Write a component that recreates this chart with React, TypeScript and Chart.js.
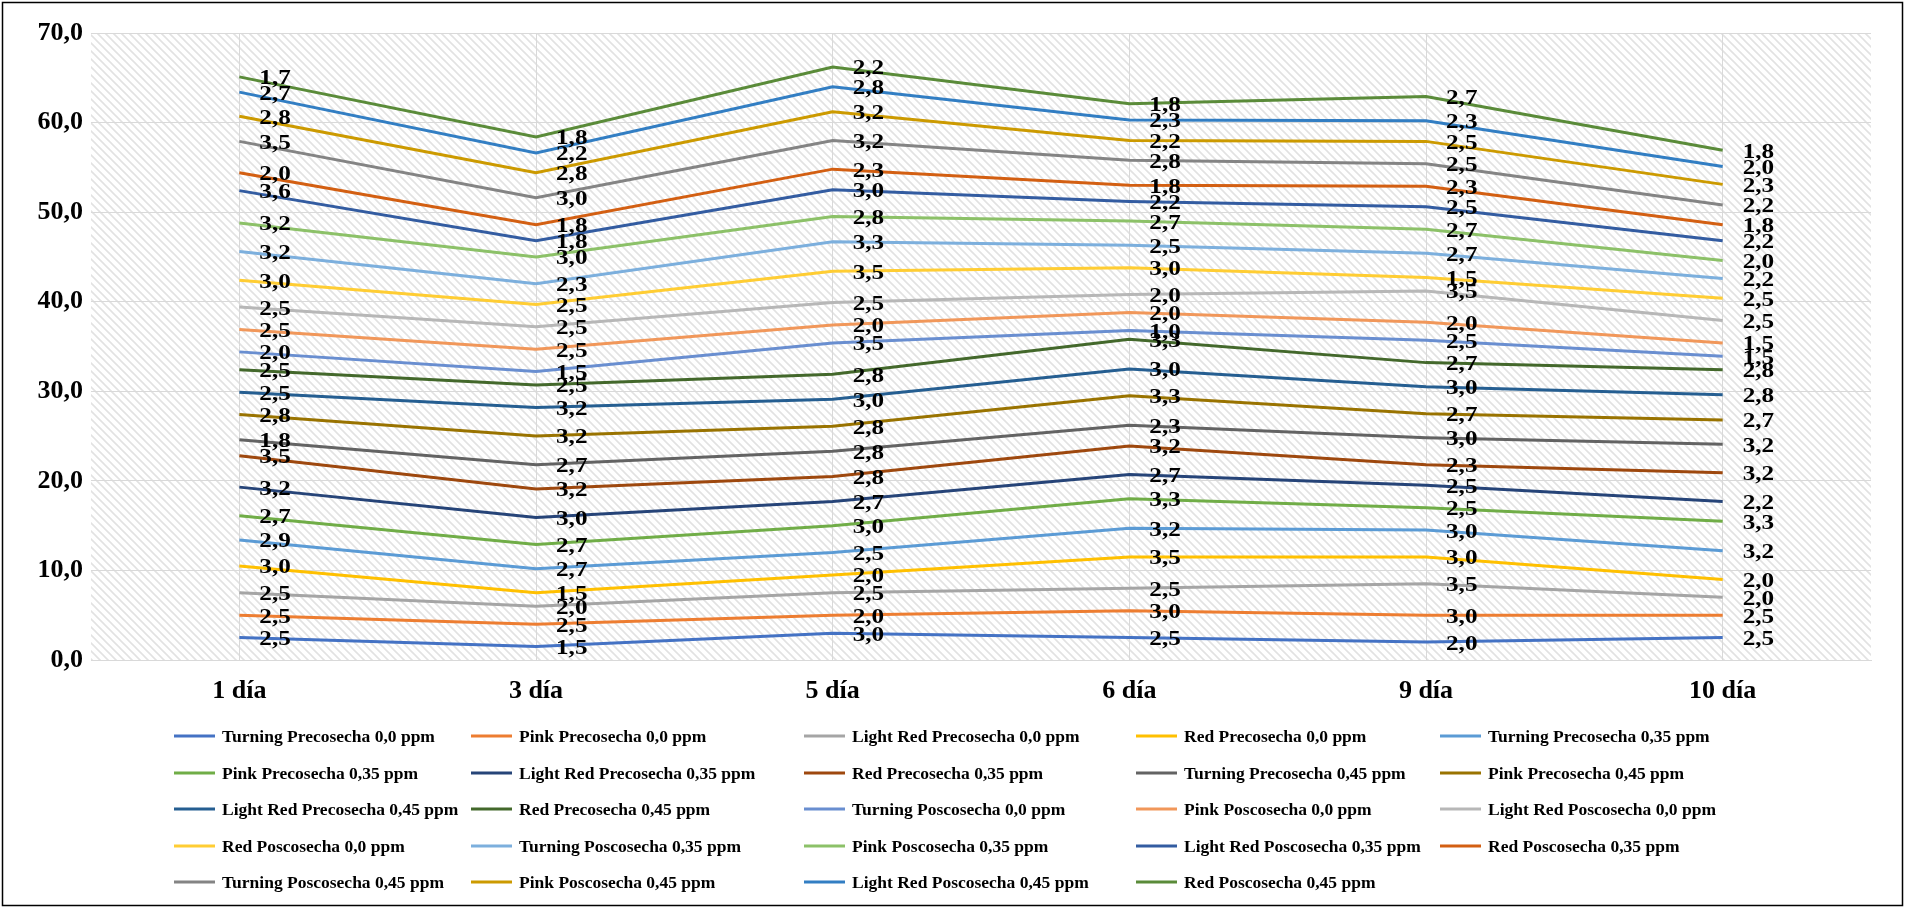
import React, { useEffect, useRef } from 'react';
import { Chart, registerables } from 'chart.js';

Chart.register(...registerables);

// Sampling days (category axis)
const days = ['1 día', '3 día', '5 día', '6 día', '9 día', '10 día'];

// Values per series and day (stacked in the chart)
const turningPre00 = [2.5, 1.5, 3.0, 2.5, 2.0, 2.5];
const pinkPre00 = [2.5, 2.5, 2.0, 3.0, 3.0, 2.5];
const lightRedPre00 = [2.5, 2.0, 2.5, 2.5, 3.5, 2.0];
const redPre00 = [3.0, 1.5, 2.0, 3.5, 3.0, 2.0];
const turningPre035 = [2.9, 2.7, 2.5, 3.2, 3.0, 3.2];
const pinkPre035 = [2.7, 2.7, 3.0, 3.3, 2.5, 3.3];
const lightRedPre035 = [3.2, 3.0, 2.7, 2.7, 2.5, 2.2];
const redPre035 = [3.5, 3.2, 2.8, 3.2, 2.3, 3.2];
const turningPre045 = [1.8, 2.7, 2.8, 2.3, 3.0, 3.2];
const pinkPre045 = [2.8, 3.2, 2.8, 3.3, 2.7, 2.7];
const lightRedPre045 = [2.5, 3.2, 3.0, 3.0, 3.0, 2.8];
const redPre045 = [2.5, 2.5, 2.8, 3.3, 2.7, 2.8];
const turningPos00 = [2.0, 1.5, 3.5, 1.0, 2.5, 1.5];
const pinkPos00 = [2.5, 2.5, 2.0, 2.0, 2.0, 1.5];
const lightRedPos00 = [2.5, 2.5, 2.5, 2.0, 3.5, 2.5];
const redPos00 = [3.0, 2.5, 3.5, 3.0, 1.5, 2.5];
const turningPos035 = [3.2, 2.3, 3.3, 2.5, 2.7, 2.2];
const pinkPos035 = [3.2, 3.0, 2.8, 2.7, 2.7, 2.0];
const lightRedPos035 = [3.6, 1.8, 3.0, 2.2, 2.5, 2.2];
const redPos035 = [2.0, 1.8, 2.3, 1.8, 2.3, 1.8];
const turningPos045 = [3.5, 3.0, 3.2, 2.8, 2.5, 2.2];
const pinkPos045 = [2.8, 2.8, 3.2, 2.2, 2.5, 2.3];
const lightRedPos045 = [2.7, 2.2, 2.8, 2.3, 2.3, 2.0];
const redPos045 = [1.7, 1.8, 2.2, 1.8, 2.7, 1.8];

const seriesNames = [
  'Turning Precosecha 0,0 ppm', 'Pink Precosecha 0,0 ppm', 'Light Red Precosecha 0,0 ppm', 'Red Precosecha 0,0 ppm',
  'Turning Precosecha 0,35 ppm', 'Pink Precosecha 0,35 ppm', 'Light Red Precosecha 0,35 ppm', 'Red Precosecha 0,35 ppm',
  'Turning Precosecha 0,45 ppm', 'Pink Precosecha 0,45 ppm', 'Light Red Precosecha 0,45 ppm', 'Red Precosecha 0,45 ppm',
  'Turning Poscosecha 0,0 ppm', 'Pink Poscosecha 0,0 ppm', 'Light Red Poscosecha 0,0 ppm', 'Red Poscosecha 0,0 ppm',
  'Turning Poscosecha 0,35 ppm', 'Pink Poscosecha 0,35 ppm', 'Light Red Poscosecha 0,35 ppm', 'Red Poscosecha 0,35 ppm',
  'Turning Poscosecha 0,45 ppm', 'Pink Poscosecha 0,45 ppm', 'Light Red Poscosecha 0,45 ppm', 'Red Poscosecha 0,45 ppm',
];

const seriesValues = [
  turningPre00, pinkPre00, lightRedPre00, redPre00,
  turningPre035, pinkPre035, lightRedPre035, redPre035,
  turningPre045, pinkPre045, lightRedPre045, redPre045,
  turningPos00, pinkPos00, lightRedPos00, redPos00,
  turningPos035, pinkPos035, lightRedPos035, redPos035,
  turningPos045, pinkPos045, lightRedPos045, redPos045,
];

const seriesColors = [
  '#4472C4', '#ED7D31', '#A5A5A5', '#FFC000', '#5B9BD5', '#70AD47',
  '#264478', '#9E480E', '#636363', '#997300', '#255E91', '#43682B',
  '#698ED0', '#F1975A', '#B7B7B7', '#FFCD33', '#7CAFDD', '#8CC168',
  '#335CA1', '#D35F12', '#848484', '#CC9A00', '#327EC3', '#5A8B39',
];

const yTicks = [0, 10, 20, 30, 40, 50, 60, 70];

const SERIF = '"Liberation Serif", "Times New Roman", serif';
const fmt = (v: number) => v.toFixed(1).replace('.', ',');

// Legend grid placement (5 columns)
const legendCols = [174, 471, 804, 1136, 1440];
const legendRows = [736, 773, 809, 846, 882];

const hatchPlugin = {
  id: 'hatchBackground',
  beforeDraw(chart: any) {
    const { ctx, chartArea, width, height } = chart;
    ctx.save();
    ctx.fillStyle = '#FFFFFF';
    ctx.fillRect(0, 0, width, height);
    const tile = document.createElement('canvas');
    const s = 8;
    tile.width = s;
    tile.height = s;
    const t = tile.getContext('2d')!;
    t.strokeStyle = '#E2E2E2';
    t.lineWidth = 1.6;
    t.beginPath();
    t.moveTo(-2, -2); t.lineTo(s + 2, s + 2);
    t.moveTo(-2, s - 2); t.lineTo(2, s + 2);
    t.moveTo(s - 2, -2); t.lineTo(s + 2, 2);
    t.stroke();
    const pat = ctx.createPattern(tile, 'repeat');
    if (pat) {
      ctx.fillStyle = pat;
      ctx.fillRect(chartArea.left, chartArea.top, chartArea.right - chartArea.left, chartArea.bottom - chartArea.top);
    }
    ctx.restore();
  },
};

// Value of each series written to the right of its point, in a wide bold serif
const valueLabelPlugin = {
  id: 'valueLabels',
  afterDatasetsDraw(chart: any) {
    const { ctx } = chart;
    ctx.save();
    ctx.font = `bold 21px ${SERIF}`;
    ctx.fillStyle = '#000000';
    ctx.textAlign = 'left';
    ctx.textBaseline = 'middle';
    chart.data.datasets.forEach((ds: any, i: number) => {
      const meta = chart.getDatasetMeta(i);
      meta.data.forEach((el: any, j: number) => {
        ctx.save();
        ctx.translate(el.x + 20, el.y + 2);
        ctx.scale(1.2, 1);
        ctx.fillText(fmt(ds.data[j]), 0, 0);
        ctx.restore();
      });
    });
    ctx.restore();
  },
};

const gridLegendPlugin = {
  id: 'gridLegend',
  afterDraw(chart: any) {
    const { ctx, width, height } = chart;
    ctx.save();
    ctx.font = `bold 17.5px ${SERIF}`;
    ctx.textAlign = 'left';
    ctx.textBaseline = 'middle';
    chart.data.datasets.forEach((ds: any, i: number) => {
      const x = legendCols[i % 5];
      const y = legendRows[Math.floor(i / 5)];
      ctx.strokeStyle = ds.borderColor;
      ctx.lineWidth = 3;
      ctx.beginPath();
      ctx.moveTo(x, y);
      ctx.lineTo(x + 41, y);
      ctx.stroke();
      ctx.fillStyle = '#000000';
      ctx.fillText(ds.label, x + 48, y + 1);
    });
    // outer frame
    ctx.strokeStyle = '#000000';
    ctx.lineWidth = 1.5;
    ctx.strokeRect(2.5, 2.5, width - 5, height - 5);
    ctx.restore();
  },
};

export default function App() {
  const canvasRef = useRef<HTMLCanvasElement>(null);

  useEffect(() => {
    const canvas = canvasRef.current;
    if (!canvas) return;
    const chart = new Chart(canvas, {
      type: 'line',
      data: {
        labels: days,
        datasets: seriesNames.map((name, i) => ({
          label: name,
          data: seriesValues[i],
          borderColor: seriesColors[i],
          backgroundColor: seriesColors[i],
          borderWidth: 3,
          pointRadius: 0,
          pointHoverRadius: 0,
          tension: 0,
          fill: false,
        })),
      },
      options: {
        responsive: false,
        animation: false,
        layout: { padding: { left: 0, top: 33, right: 34, bottom: 0 } },
        plugins: {
          legend: { display: false },
          tooltip: { enabled: false },
        },
        scales: {
          x: {
            offset: true,
            grid: { color: '#D9D9D9', offset: false, drawTicks: false },
            border: { color: '#D9D9D9' },
            ticks: {
              color: '#000000',
              padding: 16,
              font: { family: SERIF, size: 26, weight: 'bold' },
            },
            afterFit: (scale: any) => { scale.height = 248; },
          },
          y: {
            stacked: true,
            min: 0,
            max: 70,
            afterBuildTicks: (scale: any) => { scale.ticks = yTicks.map((v) => ({ value: v })); },
            grid: { color: '#D9D9D9', drawTicks: false },
            border: { display: false },
            ticks: {
              color: '#000000',
              padding: 8,
              font: { family: SERIF, size: 26, weight: 'bold' },
              callback: (v: any) => fmt(Number(v)),
            },
            afterFit: (scale: any) => { scale.width = 91; },
          },
        },
      },
      plugins: [hatchPlugin, valueLabelPlugin, gridLegendPlugin],
    });
    return () => chart.destroy();
  }, []);

  return (
    <div style={{ position: 'fixed', left: 0, top: 0, width: 1905, height: 908 }}>
      <canvas ref={canvasRef} width={1905} height={908} style={{ display: 'block', width: 1905, height: 908 }} />
    </div>
  );
}
